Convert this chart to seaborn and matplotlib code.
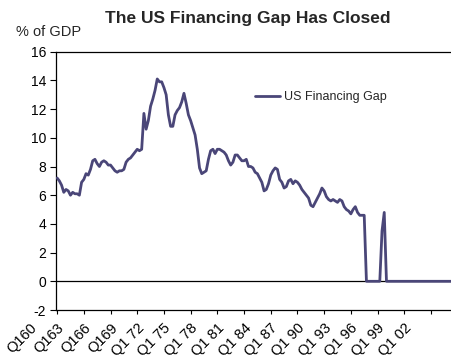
import matplotlib
matplotlib.use("Agg")
import matplotlib.pyplot as plt
import matplotlib.transforms as mtransforms
import seaborn as sns
import numpy as np
import pandas as pd

# US financing gap, % of GDP, quarterly from 1960Q1
gap = [
    7.2, 7.0, 6.7, 6.2, 6.4, 6.3, 6.0, 6.2, 6.1, 6.1,   # 1960-62
    6.0, 6.9, 7.1, 7.5, 7.4, 7.8, 8.4, 8.5, 8.2, 8.0,   # 1962-64
    8.3, 8.4, 8.3, 8.1, 8.1, 7.9, 7.7, 7.6, 7.7, 7.7,   # 1965-67
    7.8, 8.3, 8.5, 8.6, 8.8, 9.0, 9.2, 9.1, 9.2, 11.7,  # 1967-69
    10.6, 11.2, 12.2, 12.7, 13.3, 14.1, 13.9, 13.9, 13.5, 13.0,  # 1970-72
    11.6, 10.8, 10.8, 11.6, 11.9, 12.1, 12.5, 13.1, 12.4, 11.6,  # 1972-74
    11.2, 10.7, 10.2, 9.2, 7.9, 7.5, 7.6, 7.7, 8.5, 9.1,  # 1975-77
    9.2, 8.9, 9.2, 9.2, 9.1, 9.0, 8.8, 8.4, 8.1, 8.3,   # 1977-79
    8.8, 8.8, 8.6, 8.4, 8.4, 8.5, 8.0, 8.0, 7.9, 7.6,   # 1980-82
    7.5, 7.2, 6.9, 6.3, 6.4, 6.8, 7.4, 7.7, 7.9, 7.8,   # 1982-84
    7.1, 6.9, 6.5, 6.6, 7.0, 7.1, 6.8, 7.0, 6.9, 6.7,   # 1985-87
    6.4, 6.2, 6.0, 5.8, 5.3, 5.2, 5.5, 5.8, 6.1, 6.5,   # 1987-89
    6.3, 5.9, 5.7, 5.6, 5.7, 5.6, 5.5, 5.7, 5.6, 5.2,   # 1990-92
    5.0, 4.9, 4.7, 5.0, 5.2, 4.8, 4.6, 4.6, 4.6, 0.0,   # 1992-94
    0.0, 0.0, 0.0, 0.0, 0.0, 0.0, 3.5, 4.8, 0.0, 0.0,   # 1995-97
    0.0, 0.0, 0.0, 0.0, 0.0, 0.0, 0.0, 0.0, 0.0, 0.0,   # 1997-99
    0.0, 0.0, 0.0, 0.0, 0.0, 0.0, 0.0, 0.0, 0.0, 0.0,   # 2000-02
    0.0, 0.0, 0.0, 0.0, 0.0, 0.0, 0.0, 0.0,             # 2002-04
]

x_tick_labels = ["Q160", "Q163", "Q166", "Q169", "Q1 72", "Q1 75", "Q1 78",
                 "Q1 81", "Q1 84", "Q1 87", "Q1 90", "Q1 93", "Q1 96",
                 "Q1 99", "Q1 02"]
y_ticks = [-2, 0, 2, 4, 6, 8, 10, 12, 14, 16]

quarters = pd.period_range("1960Q1", periods=len(gap), freq="Q")
df = pd.DataFrame({"t": np.arange(len(gap)), "gap": gap,
                   "quarter": quarters.astype(str)})

# first quarter of every third year gets a tick
tick_pos = [i for i, q in enumerate(quarters)
            if q.quarter == 1 and (q.year - 1960) % 3 == 0][:len(x_tick_labels)]

sns.set_style("ticks")
plt.rcParams["font.family"] = ["Liberation Sans", "DejaVu Sans"]

LINE = "#4a4678"
W, H = 451, 360
fig = plt.figure(figsize=(W / 100, H / 100), dpi=100)
ax = fig.add_axes([56 / W, 1 - 310 / H, (W - 56) / W, (310 - 51.7) / H])

ax.axhline(0, color="black", lw=0.9, zorder=1)
sns.lineplot(data=df, x="t", y="gap", ax=ax, color=LINE, lw=2.0,
             label="US Financing Gap", zorder=3)

ax.set_xlim(-0.5, 177)
ax.set_ylim(-2, 16)
ax.set_yticks(y_ticks)
ax.set_yticklabels([str(v) for v in y_ticks])
ax.set_xticks(tick_pos)
ax.set_xticklabels(x_tick_labels, rotation=45, ha="right", va="top")
ax.set_xlabel("")
ax.set_ylabel("")

for side in ("left", "bottom", "top"):
    ax.spines[side].set_visible(True)
    ax.spines[side].set_color("black")
    ax.spines[side].set_linewidth(0.9)
ax.spines["right"].set_visible(False)

ax.tick_params(axis="y", direction="out", length=4, width=0.8, pad=3,
               labelsize=10, colors="black", left=True)
ax.tick_params(axis="x", direction="out", length=3, width=0.8, pad=5,
               labelsize=10.5, colors="black", bottom=True)

# slide the slanted quarter labels to the left of their ticks
shift = mtransforms.ScaledTranslation(-17 / 100, 0, fig.dpi_scale_trans)
for lab in ax.get_xticklabels():
    lab.set_transform(lab.get_transform() + shift)

ax.legend(loc="center left", bbox_to_anchor=(255 / W, 1 - 97 / H),
          bbox_transform=fig.transFigure, frameon=False, handlelength=2.0,
          handletextpad=0.3, borderpad=0, borderaxespad=0, fontsize=9)

fig.text(248 / W, 1 - 18 / H, "The US Financing Gap Has Closed",
         ha="center", va="center", fontsize=12.5, fontweight="bold")
fig.text(16 / W, 1 - 31.5 / H, "% of GDP", ha="left", va="center",
         fontsize=10.5)

fig.savefig("out.png", dpi=100)
